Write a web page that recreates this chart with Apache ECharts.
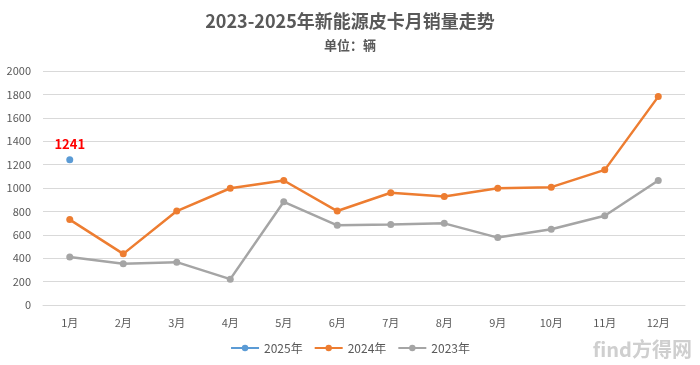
<!DOCTYPE html>
<html><head><meta charset="utf-8">
<script src="https://cdn.jsdelivr.net/npm/echarts@6/dist/echarts.min.js"></script>
<style>html,body{margin:0;padding:0;background:#fff}#c{width:700px;height:365px}</style>
</head><body><div id="c"></div>
<script>
const months = ['1月','2月','3月','4月','5月','6月','7月','8月','9月','10月','11月','12月'];
const s2025 = [1241,null,null,null,null,null,null,null,null,null,null,null];
const s2024 = [730,437,803,998,1064,803,959,928,998,1007,1155,1781];
const s2023 = [411,352,366,221,882,681,689,698,576,647,763,1064];
const yTicks = {min:0,max:2000,interval:200};

const chart = echarts.init(document.getElementById('c'));
const font = '"Microsoft YaHei","Noto Sans CJK SC",sans-serif';
function line(name, data, color){
  return {name, type:'line', data, color, symbol:'circle', symbolSize:7,
    lineStyle:{width:2.5,color}, itemStyle:{color}, connectNulls:false};
}
const s25 = line('2025年', s2025, '#5B9BD5');
s25.label = {show:true, position:'top', distance:6, color:'#FF0000', fontWeight:'bold', fontSize:13, fontFamily:font,
  formatter:p=>p.value==null?'':String(p.value)};
chart.setOption({
  animation:false,
  backgroundColor:'#fff',
  title:[{text:'2023-2025年新能源皮卡月销量走势', left:'center', top:7,
    textStyle:{fontSize:18,fontWeight:'bold',color:'#595959',fontFamily:font}},
    {text:'单位：辆', left:'center', top:34, textStyle:{fontSize:13,fontWeight:'bold',color:'#595959',fontFamily:font}}],
  legend:{bottom:6, left:'center', itemWidth:28, itemHeight:8, itemGap:11,
    textStyle:{color:'#595959',fontSize:12,fontFamily:font},
    data:['2025年','2024年','2023年']},
  grid:{left:43, right:15, top:71, bottom:60},
  xAxis:{type:'category', data:months, boundaryGap:true,
    axisLine:{lineStyle:{color:'#D9D9D9'}}, axisTick:{show:false},
    axisLabel:{color:'#595959',fontSize:11,margin:12,fontFamily:font}},
  yAxis:{type:'value', min:yTicks.min, max:yTicks.max, interval:yTicks.interval,
    axisLine:{show:false}, axisTick:{show:false},
    splitLine:{lineStyle:{color:'#D9D9D9',width:1}},
    axisLabel:{color:'#595959',fontSize:11,margin:12,fontFamily:font,formatter:v=>String(v)}},
  series:[s25, line('2024年', s2024, '#ED7D31'), line('2023年', s2023, '#A5A5A5')],
  graphic:[{type:'text', right:8, bottom:6, style:{text:'find方得网', fill:'#cfcfcf', fontSize:20, fontFamily:font, fontWeight:'bold'}}]
});
</script></body></html>
